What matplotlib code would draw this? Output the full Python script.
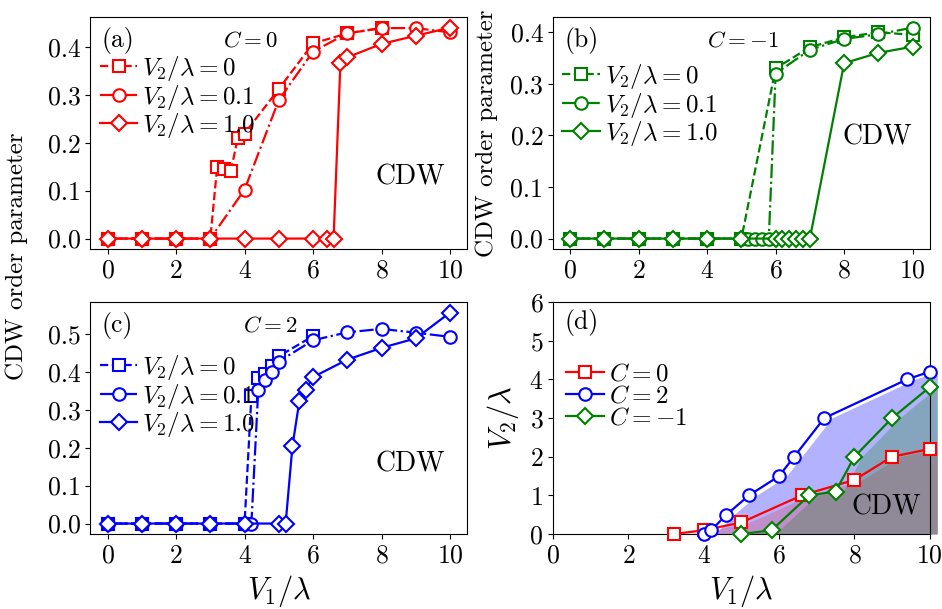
import matplotlib
matplotlib.use('Agg')
import matplotlib.pyplot as plt

plt.rcParams['font.family'] = 'serif'
plt.rcParams['font.serif'] = ['cmr10']
plt.rcParams['mathtext.fontset'] = 'cm'
plt.rcParams['axes.formatter.use_mathtext'] = True

# (a) C = 0
a_x0 = [0, 1, 2, 3, 3.2, 3.4, 3.6, 3.8, 4, 5, 6, 7, 8]
a_y0 = [0, 0, 0, 0, 0.149, 0.146, 0.141, 0.209, 0.219, 0.312, 0.407, 0.428, 0.439]
a_x01 = [0, 1, 2, 3, 4, 5, 6, 7, 8, 9, 10]
a_y01 = [0, 0, 0, 0, 0.102, 0.289, 0.390, 0.428, 0.439, 0.439, 0.430]
a_x1 = [0, 1, 2, 3, 4, 5, 6, 6.4, 6.6, 6.8, 7, 8, 9, 10]
a_y1 = [0, 0, 0, 0, 0, 0, 0, 0, 0, 0.367, 0.378, 0.406, 0.423, 0.440]

# (b) C = -1
b_x0 = [0, 1, 2, 3, 4, 5, 6, 7, 8, 9, 10]
b_y0 = [0, 0, 0, 0, 0, 0, 0.330, 0.371, 0.390, 0.400, 0.395]
b_x01 = [0, 1, 2, 3, 4, 5, 5.2, 5.4, 5.6, 5.8, 6, 7, 8, 9, 10]
b_y01 = [0, 0, 0, 0, 0, 0, 0, 0, 0, 0, 0.320, 0.366, 0.387, 0.396, 0.409]
b_x1 = [0, 1, 2, 3, 4, 5, 6, 6.2, 6.4, 6.6, 6.8, 7, 8, 9, 10]
b_y1 = [0, 0, 0, 0, 0, 0, 0, 0, 0, 0, 0, 0, 0.340, 0.360, 0.372]

# (c) C = 2
c_x0 = [0, 1, 2, 3, 4, 4.2, 4.4, 4.6, 4.8, 5, 6]
c_y0 = [0, 0, 0, 0, 0, 0.335, 0.384, 0.395, 0.416, 0.441, 0.494]
c_x01 = [0, 1, 2, 3, 4, 4.2, 4.4, 4.6, 4.8, 5, 6, 7, 8, 9, 10]
c_y01 = [0, 0, 0, 0, 0, 0, 0.352, 0.377, 0.400, 0.427, 0.483, 0.504, 0.513, 0.503, 0.492]
c_x1 = [0, 1, 2, 3, 4, 5, 5.2, 5.4, 5.6, 5.8, 6, 7, 8, 9, 10]
c_y1 = [0, 0, 0, 0, 0, 0, 0, 0.205, 0.322, 0.353, 0.386, 0.432, 0.463, 0.488, 0.556]

# (d) phase boundaries
d_x_c0 = [3.2, 4.0, 5.0, 6.6, 8.0, 9.0, 10]
d_y_c0 = [0, 0.1, 0.3, 1.0, 1.4, 2.0, 2.2]
d_x_c2 = [4.0, 4.2, 4.6, 5.2, 6.0, 6.4, 7.2, 9.4, 10]
d_y_c2 = [0, 0.1, 0.5, 1.0, 1.5, 2.0, 3.0, 4.0, 4.2]
d_x_cm1 = [5.0, 5.8, 6.8, 7.5, 8.0, 9.0, 10]
d_y_cm1 = [0, 0.1, 1.0, 1.1, 2.0, 3.0, 3.8]

labels = [r'$V_2/\lambda=0$', r'$V_2/\lambda=0.1$', r'$V_2/\lambda=1.0$']

fig, axs = plt.subplots(2, 2, figsize=(9.42, 6.09), dpi=100)
plt.subplots_adjust(left=0.096, right=0.987, top=0.972, bottom=0.123,
                    wspace=0.228, hspace=0.228)


def order_panel(ax, data, color, tag, ctext, cx, cdw_pos, leg_y, yticks):
    styles = [('s', '--'), ('o', '-.'), ('D', '-')]
    for (x, y), (m, ls), lab in zip(data, styles, labels):
        ax.plot(x, y, ls=ls, marker=m, color=color, mfc='white', mec=color,
                ms=8.5 if m == 'D' else 9, mew=1.5, lw=1.6, label=lab)
    ax.set_xlim(-0.5, 10.5)
    ax.set_xticks([0, 2, 4, 6, 8, 10])
    ax.set_yticks(yticks)
    ax.yaxis.set_major_formatter(plt.FormatStrFormatter('%.1f'))
    ax.text(0.03, 0.9, tag, transform=ax.transAxes, fontsize=18.5, va='center')
    ax.text(cx, 0.9, ctext, transform=ax.transAxes, fontsize=16.5,
            va='center', ha='center')
    ax.text(cdw_pos[0], cdw_pos[1], 'CDW', transform=ax.transAxes, fontsize=20,
            va='center', ha='center')
    ax.legend(loc='center left', bbox_to_anchor=(0.025, leg_y), frameon=False,
              fontsize=18, handlelength=1.5, handletextpad=0.2,
              labelspacing=-0.02, borderpad=0, borderaxespad=0)


order_panel(axs[0, 0], [(a_x0, a_y0), (a_x01, a_y01), (a_x1, a_y1)], 'r',
            '(a)', r'$C=0$', 0.424, (0.85, 0.31), 0.655, [0, 0.1, 0.2, 0.3, 0.4])
order_panel(axs[0, 1], [(b_x0, b_y0), (b_x01, b_y01), (b_x1, b_y1)], 'g',
            '(b)', r'$C=-1$', 0.503, (0.86, 0.48), 0.62, [0, 0.1, 0.2, 0.3, 0.4])
order_panel(axs[1, 0], [(c_x0, c_y0), (c_x01, c_y01), (c_x1, c_y1)], 'b',
            '(c)', r'$C=2$', 0.477, (0.85, 0.30), 0.595, [0, 0.1, 0.2, 0.3, 0.4, 0.5])

axs[0, 0].set_ylabel('CDW order parameter', fontsize=18)
axs[0, 0].yaxis.set_label_coords(-0.165, -0.03)
axs[0, 1].set_ylabel('CDW order parameter', fontsize=18, labelpad=9)
axs[1, 0].set_xlabel(r'$V_1/\lambda$', fontsize=22)

# (d)
ax = axs[1, 1]
shift = 0.2
for x, y, c, al in [(d_x_c2, d_y_c2, 'b', 0.3), (d_x_c0, d_y_c0, 'r', 0.2),
                    (d_x_cm1, d_y_cm1, 'g', 0.25)]:
    ax.fill_between([v + shift for v in x], y, 0, color=c, alpha=al, lw=0,
                    clip_on=False)
ax.plot(d_x_c0, d_y_c0, '-s', color='r', mfc='white', ms=9, mew=1.5, lw=1.6,
        label=r'$C=0$', clip_on=False, zorder=3)
ax.plot(d_x_c2, d_y_c2, '-o', color='b', mfc='white', ms=9, mew=1.5, lw=1.6,
        label=r'$C=2$', clip_on=False, zorder=3)
ax.plot(d_x_cm1, d_y_cm1, '-D', color='g', mfc='white', ms=8.5, mew=1.5, lw=1.6,
        label=r'$C=-1$', clip_on=False, zorder=3)
ax.set_xlim(0, 10)
ax.set_ylim(0, 6)
ax.set_xticks([0, 2, 4, 6, 8, 10])
ax.set_yticks([0, 1, 2, 3, 4, 5, 6])
ax.text(0.03, 0.91, '(d)', transform=ax.transAxes, fontsize=18.5, va='center')
ax.text(0.886, 0.116, 'CDW', transform=ax.transAxes, fontsize=20,
        va='center', ha='center')
ax.legend(loc='center left', bbox_to_anchor=(0.035, 0.595), frameon=False,
          fontsize=18, handlelength=1.5, handletextpad=0.2,
          labelspacing=-0.02, borderpad=0, borderaxespad=0)
ax.set_xlabel(r'$V_1/\lambda$', fontsize=22)
ax.set_ylabel(r'$V_2/\lambda$', fontsize=22, labelpad=6)

for a in axs.flat:
    a.tick_params(labelsize=18.5)

plt.savefig('out.png', dpi=100)
